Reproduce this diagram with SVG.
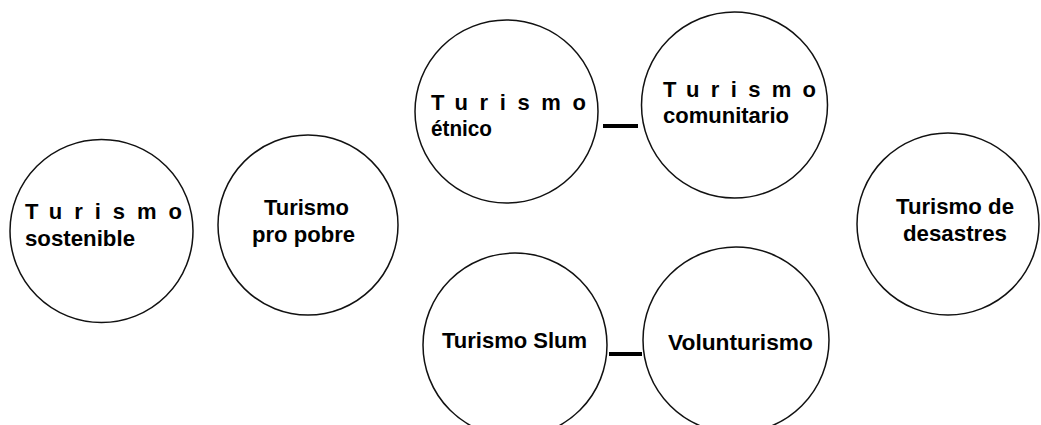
<svg xmlns="http://www.w3.org/2000/svg" width="1041" height="425" viewBox="0 0 1041 425">
<style>
.n{fill:#fff;stroke:#111;stroke-width:1.5}
.t{font-family:"Liberation Sans",Arial,sans-serif;font-weight:bold;font-size:22px;fill:#000}
.c{stroke:#000;stroke-width:4}
</style>
<rect width="1041" height="425" fill="#fff"/>
<g id="sostenible">
<circle class="n" cx="101.5" cy="231" r="91.5"/>
<text class="t" x="25" y="219" textLength="157" lengthAdjust="spacing">Turismo</text>
<text class="t" x="25" y="246" textLength="110" lengthAdjust="spacingAndGlyphs">sostenible</text>
</g>
<g id="propobre">
<circle class="n" cx="308" cy="225" r="90"/>
<text class="t" x="264" y="215" textLength="85" lengthAdjust="spacingAndGlyphs">Turismo</text>
<text class="t" x="252" y="242" textLength="103" lengthAdjust="spacingAndGlyphs">pro pobre</text>
</g>
<g id="etnico">
<circle class="n" cx="506.5" cy="111.5" r="91.5"/>
<text class="t" x="431" y="110" textLength="155" lengthAdjust="spacing">Turismo</text>
<text class="t" x="431" y="136" textLength="61" lengthAdjust="spacingAndGlyphs">étnico</text>
</g>
<g id="comunitario">
<circle class="n" cx="734.5" cy="105" r="93"/>
<text class="t" x="663" y="97" textLength="153" lengthAdjust="spacing">Turismo</text>
<text class="t" x="663" y="123" textLength="126" lengthAdjust="spacingAndGlyphs">comunitario</text>
</g>
<g id="slum">
<circle class="n" cx="515" cy="345" r="92"/>
<text class="t" x="442" y="348" textLength="145" lengthAdjust="spacingAndGlyphs">Turismo Slum</text>
</g>
<g id="volunturismo">
<circle class="n" cx="736" cy="340" r="93"/>
<text class="t" x="668" y="350" textLength="145" lengthAdjust="spacingAndGlyphs">Volunturismo</text>
</g>
<g id="desastres">
<circle class="n" cx="948" cy="224" r="91"/>
<text class="t" x="896" y="214" textLength="118" lengthAdjust="spacingAndGlyphs">Turismo de</text>
<text class="t" x="903" y="241" textLength="104" lengthAdjust="spacingAndGlyphs">desastres</text>
</g>
<g id="connectors">
<line class="c" x1="603" y1="126" x2="638" y2="126"/>
<line class="c" x1="609" y1="354" x2="642" y2="354"/>
</g>
</svg>
